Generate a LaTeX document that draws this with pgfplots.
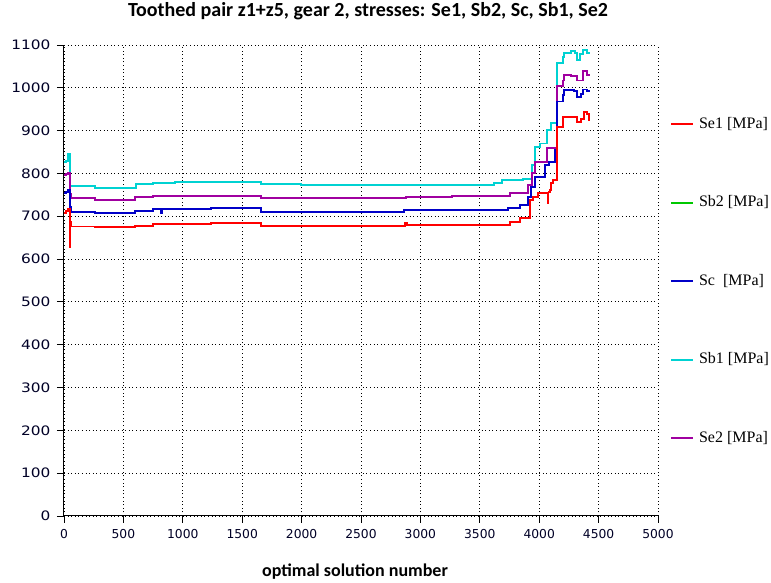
\documentclass[border=0pt]{standalone}
\usepackage{fontspec}
\usepackage{pgfplots}
\pgfplotsset{compat=1.18}
\setmainfont{Liberation Serif}
\newfontfamily\titlefont{Carlito}
\newfontfamily\tickfont{DejaVu Sans}
\newfontfamily\ytickfont[FakeStretch=1.18]{DejaVu Sans}
\definecolor{cRed}{RGB}{255,0,0}
\definecolor{cGreen}{RGB}{0,200,0}
\definecolor{cBlue}{RGB}{0,0,200}
\definecolor{cCyan}{RGB}{0,210,210}
\definecolor{cPurple}{RGB}{160,0,160}
\begin{document}
\begin{tikzpicture}
\useasboundingbox (-64pt,-67pt) rectangle (707pt,516pt);
\begin{axis}[
  scale only axis, width=594pt, height=471pt,
  at={(0,0)}, anchor=south west,
  xmin=0, xmax=5000, ymin=0, ymax=1100,
  xtick={0,500,...,5000}, ytick={0,100,...,1100},
  axis x line*=bottom, axis y line*=left,
  axis line style={line width=1pt, black, -},
  grid=major, grid style={black, line width=0.9pt, dash pattern=on 1pt off 2.6pt},
  tick align=outside, major tick length=7pt, tick style={black, line width=0.9pt},
  xticklabel style={font=\tickfont\fontsize{12.3}{14}\selectfont, text=black!85!blue, yshift=-3pt},
  yticklabel style={font=\ytickfont\fontsize{13}{14}\selectfont, text=black!85!blue, xshift=-3pt},
  /pgf/number format/assume math mode=true,
  /pgf/number format/set thousands separator={},
  title={Toothed pair z1+z5, gear 2, stresses: Se1, Sb2, Sc, Sb1, Se2},
  title style={font=\titlefont\bfseries\fontsize{20}{22}\selectfont, at={(0.5,1)}, anchor=base, yshift=22pt, xshift=7pt},
  xlabel={optimal solution number},
  xlabel style={font=\titlefont\bfseries\fontsize{18}{20}\selectfont, at={(0.5,0)}, anchor=base, yshift=-61pt, xshift=-6pt},
  legend style={at={(1.0202,0.8472)}, anchor=north west, draw=none, fill=none, inner sep=0pt,
    row sep=64pt, column sep=5pt, font=\fontsize{16}{18}\selectfont,
    nodes={inner sep=0pt, text height=11pt, text depth=3.5pt}},
  legend cell align=left,
  legend image code/.code={\draw[#1] (0pt,0pt) -- (22pt,0pt);},
  every axis plot/.append style={line width=1.9pt},
]
\addlegendimage{cRed, line width=1.9pt}
\addlegendentry{Se1 [MPa]}
\addlegendimage{cGreen, line width=1.9pt}
\addlegendentry{Sb2 [MPa]}
\addlegendimage{cBlue, line width=1.9pt}
\addlegendentry{Sc\ \ [MPa]}
\addlegendimage{cCyan, line width=1.9pt}
\addlegendentry{Sb1 [MPa]}
\addlegendimage{cPurple, line width=1.9pt}
\addlegendentry{Se2 [MPa]}

% Sb1
\addplot[const plot, cCyan, forget plot] coordinates {
(0,827) (20,830) (35,845) (50,771) (260,765) (606,775) (750,778) (931,781) (1656,775) (1995,773) (3620,778) (3690,784) (3860,787) (3937,820) (3965,861) (4010,870) (4063,901) (4096,917) (4147,1057) (4198,1073) (4210,1082) (4270,1087) (4300,1081) (4318,1066) (4345,1080) (4365,1088) (4405,1081) (4430,1081)};
% Se2
\addplot[const plot, cPurple, forget plot] coordinates {
(0,796) (20,798) (35,800) (50,735) (53,752) (62,742) (260,738) (600,746) (750,748) (1656,742) (2880,745) (3266,748) (3754,755) (3909,773) (3937,800) (3965,827) (4063,859) (4147,1005) (4198,1017) (4210,1029) (4270,1027) (4318,1017) (4365,1039) (4405,1029) (4430,1029)};
% Sc
\addplot[const plot, cBlue, forget plot] coordinates {
(0,755) (20,757) (35,761) (50,652) (53,722) (62,711) (260,707) (600,713) (750,716) (820,707) (825,716) (1240,720) (1656,710) (2860,714) (3734,719) (3838,726) (3905,746) (3930,769) (3965,792) (4050,820) (4085,827) (4135,855) (4147,968) (4198,983) (4210,995) (4290,992) (4318,979) (4355,985) (4370,996) (4405,992) (4430,992)};
% Se1
\addplot[const plot, cRed, forget plot] coordinates {
(0,708) (20,712) (35,718) (50,627) (53,687) (62,676) (260,675) (600,678) (750,681) (1240,684) (1656,677) (2870,684) (2885,679) (3754,687) (3838,695) (3923,738) (3945,746) (3987,754) (4070,732) (4078,756) (4090,761) (4100,777) (4115,785) (4147,909) (4198,931) (4318,921) (4355,928) (4380,944) (4405,938) (4418,925) (4430,925)};
\end{axis}
\end{tikzpicture}
\end{document}
